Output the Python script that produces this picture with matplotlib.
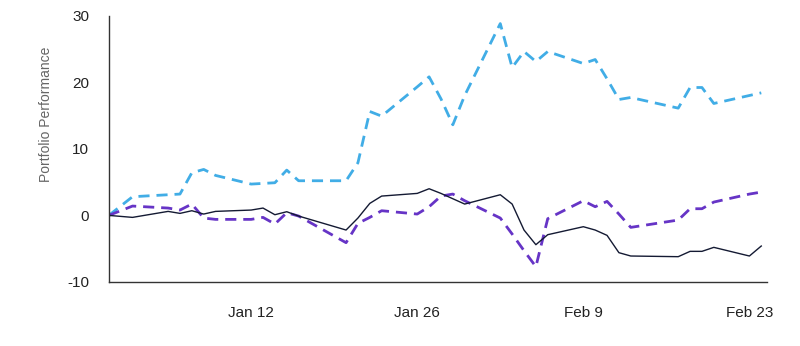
import numpy as np
import pandas as pd
import matplotlib
matplotlib.use("Agg")
import matplotlib.pyplot as plt
import matplotlib.dates as mdates

plt.rcParams['font.family'] = ['Liberation Sans', 'DejaVu Sans']
plt.rcParams['axes.unicode_minus'] = False

# trading days, Dec 31 2025 -> Feb 24 2026 (market holidays skipped)
holidays = ['2026-01-01', '2026-01-19', '2026-02-16']
dates = pd.bdate_range('2025-12-31', '2026-02-24', freq='C', holidays=holidays)

# portfolio performance readings, one per trading day
portfolio_a = [0, -0.3, 0.6, 0.3, 0.7, 0.2, 0.6, 0.8, 1.1, 0.1,
               0.55, -0.1, -2.2, -0.4, 1.8, 2.9, 3.3, 4.0, 3.3, 2.5,
               1.7, 3.1, 1.7, -2.2, -4.4, -2.9, -1.7, -2.2, -3.0, -5.6,
               -6.1, -6.2, -5.4, -5.4, -4.8, -6.1, -4.6]
portfolio_b = [0, 1.4, 1.1, 0.8, 1.7, -0.4, -0.6, -0.6, -0.3, -1.3,
               0.4, -0.1, -4.1, -1.2, -0.3, 0.7, 0.2, 1.3, 2.9, 3.2,
               2.2, -0.4, -2.8, -5.3, -7.7, -0.5, 2.2, 1.3, 2.1, 0.2,
               -1.8, -0.7, 1.0, 1.0, 2.0, 3.2, 3.5]
portfolio_c = [0, 2.8, 3.1, 3.2, 6.4, 6.9, 6.0, 4.7, 4.8, 4.9,
               6.8, 5.2, 5.2, 7.9, 15.6, 14.9, 19.3, 20.8, 17.5, 13.6,
               18.0, 28.8, 22.2, 24.6, 23.1, 24.6, 22.8, 23.4, 20.5, 17.4,
               17.7, 16.1, 19.2, 19.2, 16.8, 18.0, 18.4]

tick_dates = pd.to_datetime(['2026-01-12', '2026-01-26', '2026-02-09', '2026-02-23'])
tick_labels = ['Jan 12', 'Jan 26', 'Feb 9', 'Feb 23']
y_ticks = [-10, 0, 10, 20, 30]

fig = plt.figure(figsize=(8, 3.46), dpi=100)
ax = fig.add_axes([0.136, 0.185, 0.823, 0.77])

ax.plot(dates, portfolio_c, color='#41ade6', lw=2.0, dashes=(4, 2.5))
ax.plot(dates, portfolio_b, color='#6634c6', lw=2.0, dashes=(4, 2.5))
ax.plot(dates, portfolio_a, color='#141a33', lw=1.0)

ax.set_xlim(dates[0], dates[-1] + pd.Timedelta(hours=12))
ax.set_ylim(-10, 30)
ax.set_yticks(y_ticks)
ax.set_xticks(tick_dates)
ax.set_xticklabels(tick_labels)

for s in ['top', 'right']:
    ax.spines[s].set_visible(False)
for s in ['left', 'bottom']:
    ax.spines[s].set_color('#333333')
    ax.spines[s].set_linewidth(1.0)

ax.tick_params(axis='y', length=0, pad=14, labelsize=11, labelcolor='#222222')
ax.tick_params(axis='x', length=0, pad=17, labelsize=11, labelcolor='#222222')
ax.set_ylabel('Portfolio Performance', fontsize=10, color='#666666')
ax.yaxis.set_label_coords(-0.084, 0.63)

fig.savefig('out.png', dpi=100)
